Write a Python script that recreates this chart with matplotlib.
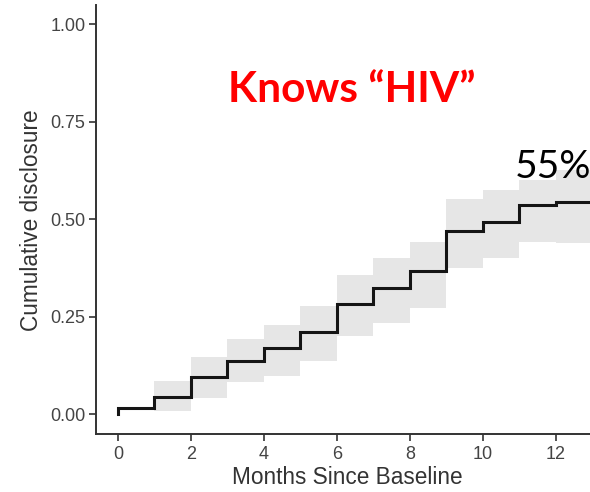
import matplotlib
matplotlib.use("Agg")
import matplotlib.pyplot as plt

# Data
months = [0, 0, 1, 2, 3, 4, 5, 6, 7, 8, 9, 10, 11, 12]
cum_disclosure = [0.0, 0.017, 0.046, 0.096, 0.138, 0.170, 0.211, 0.284, 0.325, 0.367, 0.471, 0.494, 0.537, 0.544]
ci_upper = [0.0, 0.017, 0.085, 0.148, 0.194, 0.230, 0.278, 0.358, 0.401, 0.443, 0.551, 0.575, 0.600, 0.625]
ci_lower = [0.0, 0.017, 0.010, 0.042, 0.084, 0.098, 0.136, 0.200, 0.235, 0.273, 0.375, 0.401, 0.442, 0.440]
x_end = 13.6
x_ticks = [0, 2, 4, 6, 8, 10, 12]
y_ticks = [0.00, 0.25, 0.50, 0.75, 1.00]
y_ticklabels = ["0.00", "0.25", "0.50", "0.75", "1.00"]
title_text = "Knows \u201cHIV\u201d"
pct_text = "55%"

W, H = 590, 492
fig = plt.figure(figsize=(W / 100, H / 100), dpi=100)

# axes geometry in pixels
left_px, bottom_px = 96, 434
x_scale = 36.5  # px per month
xmin = -0.6
top_px = 4.5
ax_w = (x_end - xmin) * x_scale
ax = fig.add_axes([left_px / W, 1 - bottom_px / H, ax_w / W, (bottom_px - top_px) / H])

xs = months + [x_end]
ys = cum_disclosure + [cum_disclosure[-1]]
lo = ci_lower + [ci_lower[-1]]
hi = ci_upper + [ci_upper[-1]]

ax.fill_between(xs, lo, hi, step="post", color="#e6e6e6", linewidth=0)
ax.step(xs, ys, where="post", color="#151515", linewidth=2.2, solid_joinstyle="miter")

ax.set_xlim(xmin, x_end)
ax.set_ylim(-0.05, 1.05)
ax.set_xticks(x_ticks)
ax.set_yticks(y_ticks)
ax.set_yticklabels(y_ticklabels)

for s in ["top", "right"]:
    ax.spines[s].set_visible(False)
for s in ["left", "bottom"]:
    ax.spines[s].set_color("#333333")
    ax.spines[s].set_linewidth(1.4)

ax.tick_params(axis="both", colors="#333333", length=5, width=1.2, labelcolor="#444444",
               labelsize=13, pad=2.5)
ax.tick_params(axis="x", pad=3.5)
for lab in ax.get_xticklabels() + ax.get_yticklabels():
    lab.set_fontfamily("Liberation Sans")

fig.text(347 / W, 1 - 484 / H, "Months Since Baseline", ha="center", va="baseline",
         family="Liberation Sans", size=16.3, color="#333333")
fig.text(32 / W, 1 - 220 / H, "Cumulative disclosure", ha="center", va="center",
         rotation=90, family="Liberation Sans", size=16.3, color="#333333")

fig.text(352 / W, 1 - 102 / H, title_text, ha="center", va="baseline",
         family="Lato", weight="bold", size=30.5, color="#ff0000")
fig.text(515 / W, 1 - 178 / H, pct_text, ha="left", va="baseline",
         family="Lato", size=28, color="#000000")

fig.savefig("out.png", dpi=100)
